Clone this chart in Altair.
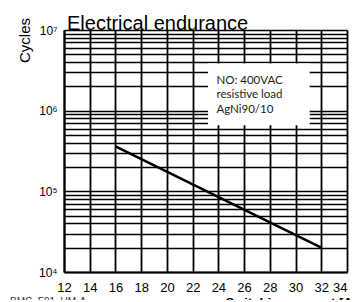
import altair as alt
import pandas as pd

# ---- data ----
x_ticks = [12, 14, 16, 18, 20, 22, 24, 26, 28, 30, 32, 34]
y_powers = [10000, 100000, 1000000, 10000000]
y_power_labels = ["10⁴", "10⁵", "10⁶", "10⁷"]
curve_current = [16, 32]
curve_cycles = [360000, 20000]
note_lines = ["NO: 400VAC", "resistive load", "AgNi90/10"]
note_x = [23.85, 23.85, 23.85]
note_y = [2.3e6, 1.58e6, 1.02e6]
box_x = [23.2]
box_x2 = [31.1]
box_y = [3.85e6]
box_y2 = [6.6e5]

y_grid = sorted(set([k * 10 ** e for e in range(4, 7) for k in range(1, 10)] + [10 ** 7]))

label_expr = " : ".join(
    f"datum.value == {v} ? '{l}'" for v, l in zip(y_powers, y_power_labels)
) + " : ''"

curve = pd.DataFrame({"x": curve_current, "y": curve_cycles})
box = pd.DataFrame({"x": box_x, "x2": box_x2, "y": box_y, "y2": box_y2})
notes = pd.DataFrame({"x": note_x, "y": note_y, "t": note_lines})
footer = pd.DataFrame({"t": ["BMC_F01_UM-A"]})

xs = alt.Scale(domain=[12, 34], nice=False, zero=False)
ys = alt.Scale(type="log", domain=[1e4, 1e7], nice=False)

x_axis = alt.Axis(
    values=x_ticks, grid=True, gridColor="black", gridWidth=1.8, gridOpacity=1,
    ticks=False, domainColor="black", domainWidth=2,
    labelFont="Liberation Sans", labelFontSize=13, labelColor="black", labelPadding=9,
    labelFlush=False, labelOverlap=False, labelSeparation=0, labelBound=False,
    labelAlign={"condition": {"test": f"datum.value == {x_ticks[-1]}", "value": "right"},
                "value": "center"},
    title="Switching current [A]", titleFont="Liberation Sans", titleFontSize=13,
    titleFontWeight="bold", titleColor="black", titleAnchor="start", titleAlign="left",
    titleBaseline="top", titleX=161, titleY=24,
)
y_axis = alt.Axis(
    values=y_grid, labelExpr=label_expr, grid=True, gridColor="black", gridWidth=1.3,
    gridOpacity=1, ticks=False, domainColor="black", domainWidth=2,
    labelFont="Liberation Sans", labelFontSize=12, labelColor="black", labelPadding=7,
    labelFlush=False, labelOverlap=False,
    title="Cycles", titleFont="Liberation Sans", titleFontSize=15, titleFontWeight="normal",
    titleColor="black", titleAngle=270, titleAlign="center", titleBaseline="middle",
    titleX=-40, titleY=10,
)

X = alt.X("x:Q", scale=xs, axis=x_axis)
Y = alt.Y("y:Q", scale=ys, axis=y_axis)

base_line = alt.Chart(curve).mark_line(color="black", strokeWidth=2.5).encode(x=X, y=Y)
box_layer = alt.Chart(box).mark_rect(color="white", opacity=1).encode(
    x=X, x2="x2:Q", y=Y, y2="y2:Q"
)
note_layer = alt.Chart(notes).mark_text(
    align="left", baseline="middle", font="Lato", fontSize=11.5, color="#222222"
).encode(x=X, y=Y, text="t:N")
footer_layer = alt.Chart(footer).mark_text(
    align="left", baseline="top", font="Liberation Sans", fontSize=10, color="#333333"
).encode(x=alt.value(-54), y=alt.value(25 + 242), text="t:N")

chart = alt.layer(base_line, box_layer, note_layer, footer_layer).properties(
    width=283, height=242,
    padding={"left": 56, "top": 22, "right": 5, "bottom": 28},
    autosize=alt.AutoSizeParams(type="none"),
    title=alt.TitleParams(
        "Electrical endurance", anchor="start", frame="group", font="Liberation Sans",
        fontSize=20, fontWeight="normal", color="black", offset=2, dx=3, dy=19,
    ),
).configure_view(stroke="black", strokeWidth=2).configure(background="white")

chart.save("out.html", embed_options={"renderer": "svg", "actions": False})
